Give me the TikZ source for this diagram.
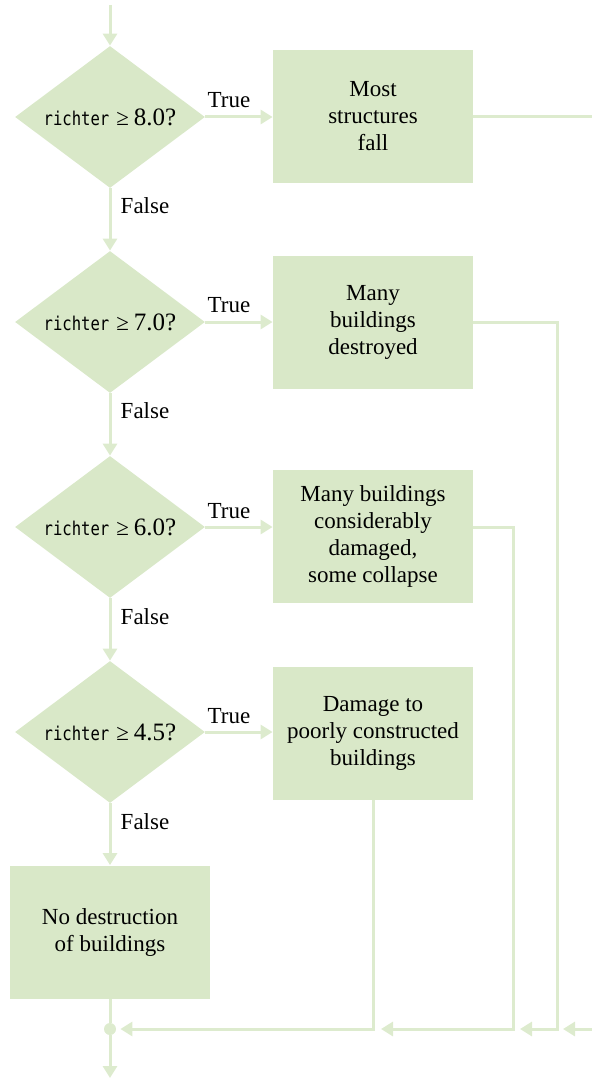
\documentclass[tikz,border=0pt]{standalone}
\usepackage{fontspec}
\setmainfont{Liberation Serif}
\newfontfamily\codefont[FakeStretch=0.82]{DejaVu Sans Mono}
\usepackage{tikz}
\usetikzlibrary{shapes.geometric, arrows.meta, positioning}

\definecolor{chartgreen}{RGB}{217,232,200}
\definecolor{flowgreen}{RGB}{221,235,206}

\newcommand{\cond}[1]{{\codefont\fontsize{9.5}{11}\selectfont richter}\hspace{3.5pt}≥\hspace{2.5pt}{\fontsize{12.5}{14}\selectfont#1?}}

\begin{document}
\begin{tikzpicture}[
    x=0.5pt, y=-0.5pt,
    decision/.style = {diamond, fill=chartgreen, aspect=1.34, inner sep=0pt, minimum width=95pt, minimum height=71pt, font=\fontsize{11.5}{13.5}\selectfont},
    outcome/.style = {rectangle, fill=chartgreen, minimum width=100pt, minimum height=66.5pt, align=center, inner sep=2pt, font=\fontsize{11.5}{13.5}\selectfont},
    flow/.style = {draw=flowgreen, line width=1.5pt},
    arr/.style = {flow, -{Triangle[length=6pt, width=7pt]}},
    branch/.style = {font=\fontsize{11.5}{13.5}\selectfont, inner sep=0pt}
]
\useasboundingbox (0,0) rectangle (592,1081);

% decisions
\node [decision] (d1) at (110,117) {\cond{8.0}};
\node [decision] (d2) at (110,322) {\cond{7.0}};
\node [decision] (d3) at (110,527) {\cond{6.0}};
\node [decision] (d4) at (110,732) {\cond{4.5}};

% outcomes
\node [outcome] (b1) at (373,116.5) {Most\\structures\\fall};
\node [outcome] (b2) at (373,322.5) {Many\\buildings\\destroyed};
\node [outcome] (b3) at (373,536.5) {Many buildings\\considerably\\damaged,\\some collapse};
\node [outcome] (b4) at (373,733) {Damage to\\poorly constructed\\buildings};
\node [outcome] (b5) at (110,932) {No destruction\\of buildings};

% entry, exit and merge points
\coordinate (start) at (110,5);
\coordinate (out1) at (592,116.5);
\coordinate (in1) at (592,1029);
\coordinate (c2) at (557,1029);
\coordinate (c3) at (513,1029);
\node [circle, fill=flowgreen, inner sep=0pt, minimum size=6pt] (join) at (110,1029) {};
\coordinate (finish) at (110,1078);

\draw[arr] (start) -- (d1.north);

% true branches
\foreach \d/\b/\y in {d1/b1/100, d2/b2/305, d3/b3/511, d4/b4/716} {
    \draw[arr] (\d.east) -- (\d.east -| \b.west);
    \node [branch] at (229,\y) {True};
}

% false branches
\draw[arr] (d1.south) -- (d2.north);
\draw[arr] (d2.south) -- (d3.north);
\draw[arr] (d3.south) -- (d4.north);
\draw[arr] (d4.south) -- (b5.north);
\foreach \y in {206, 411, 617, 822}
    \node [branch] at (145,\y) {False};

% collecting lines
\draw[flow] (b1.east) -- (out1);
\draw[arr] (in1) -- ([xshift=3pt]c2);
\draw[arr] (b2.east) -- (b2.east -| c2) -- (c2) -- ([xshift=3.5pt]c3);
\draw[arr] (b3.east |- d3.east) -- (b3.east |- d3.east -| c3) -- (c3) -- ([xshift=4pt]b4.south |- join);
\draw[arr] (b4.south) -- (b4.south |- join) -- ([xshift=2pt]join.east);
\draw[flow] (b5.south) -- (join);
\draw[arr] (join) -- (finish);

\end{tikzpicture}
\end{document}
